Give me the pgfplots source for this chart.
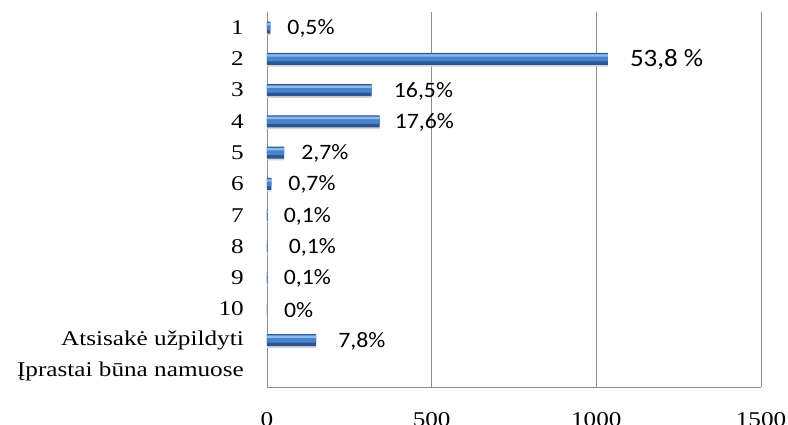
\documentclass[border=0pt]{standalone}
\usepackage{pgfplots}
\usepackage{pgfplotstable}
\pgfplotsset{compat=1.18}
\usepackage{fontspec}
\setmainfont[FakeStretch=1.2]{Liberation Serif}
\newfontfamily\lab[FakeStretch=1.08]{Carlito}
\definecolor{barLight}{HTML}{8CBCEF}
\definecolor{barMid}{HTML}{4B83CB}
\definecolor{barDark}{HTML}{2A5790}
\definecolor{shad}{HTML}{D4D4D4}
\definecolor{gridc}{HTML}{8E8E8E}

\pgfplotstableread[col sep=semicolon]{
y;v;lab;dx;fs
0;10;0,5\%;17;22
1;1035;53,8~\%;22;25
2;318;16,5\%;22;22
3;342;17,6\%;15;22
4;52;2,7\%;17;22
5;13;0,7\%;17;22
6;2;0,1\%;16;22
7;2;0,1\%;21;22
8;2;0,1\%;16;22
9;0;0\%;17;22
10;149;7,8\%;22;22
}\data

\begin{document}
\begin{tikzpicture}
\begin{axis}[
  name=ax,
  scale only axis,
  width=494bp, height=375bp,
  xmin=0, xmax=1500,
  ymin=-0.5, ymax=11.5,
  y dir=reverse,
  axis x line*=bottom,
  axis y line*=left,
  axis line style={gridc, line width=0.9pt, -},
  xtick={0,500,1000,1500},
  xticklabels={0,500,1000,1500},
  ytick={0,1,2,3,4,5,6,7,8,9,10,11},
  yticklabels={1,2,3,4,5,6,7,8,9,10,Atsisakė užpildyti,Įprastai būna namuose},
  major tick length=0pt,
  xmajorgrids,
  grid style={gridc, line width=0.9pt},
  tick label style={font=\fontsize{21bp}{25bp}\selectfont, inner sep=0pt},
  yticklabel style={anchor=east, xshift=-23bp},
  xticklabel style={anchor=north, yshift=-25bp},
  clip=false,
]
% soft shadow under the bars
\addplot[xbar, bar width=0.30, bar shift=0.10, draw=none, fill=shad]
  table[x=v, y=y] {\data};
% dark base of each bar, with the percentage labels
\addplot[
  xbar, bar width=0.38, bar shift=0,
  draw=none, fill=barDark,
  point meta=explicit symbolic,
  visualization depends on={\thisrow{dx} \as \dx},
  visualization depends on={\thisrow{fs} \as \fs},
  nodes near coords={\pgfplotspointmeta},
  every node near coord/.append style={
    anchor=west, inner sep=0pt, xshift=\dx bp, yshift=-1bp, text=black,
    font=\lab\fontsize{\fs bp}{\fs bp}\selectfont},
] table[x=v, y=y, meta=lab] {\data};
% middle band
\addplot[xbar, bar width=0.24, bar shift=-0.04, draw=none, fill=barMid]
  table[x=v, y=y] {\data};
% light highlight near the top
\addplot[xbar, bar width=0.07, bar shift=-0.11, draw=none, fill=barLight]
  table[x=v, y=y] {\data};
\end{axis}
\pgfresetboundingbox
\path[use as bounding box] ([xshift=-267bp,yshift=-38bp]ax.south west) rectangle ([xshift=27bp,yshift=12bp]ax.north east);
\end{tikzpicture}
\end{document}
